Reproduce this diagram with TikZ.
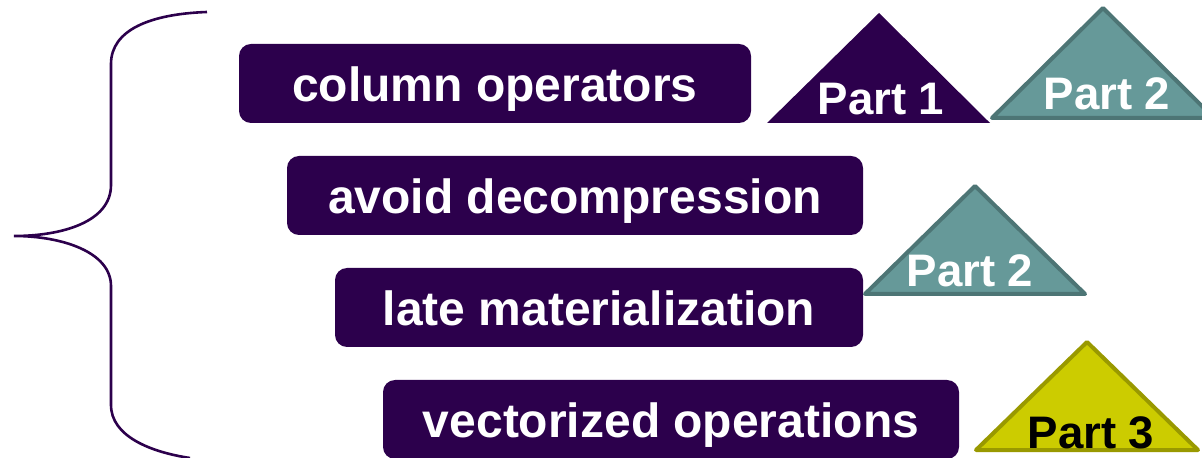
\documentclass[tikz,border=0pt]{standalone}
\usepackage{fontspec}
\setmainfont{Liberation Sans}
\definecolor{deeppurple}{RGB}{44,0,76}
\definecolor{tealfill}{RGB}{102,153,153}
\definecolor{tealline}{RGB}{77,117,117}
\definecolor{olivefill}{RGB}{204,204,0}
\definecolor{oliveline}{RGB}{153,153,0}
\begin{document}
\begin{tikzpicture}[x=0.5pt,y=-0.5pt,
  topic/.style={fill=deeppurple, rounded corners=6pt, inner sep=0pt,
    minimum height=39.5pt, text=white, text height=18.2pt, text depth=0pt,
    font=\fontsize{24}{28}\selectfont\bfseries},
  tri/.style={line width=2pt, line join=round},
  partlabel/.style={anchor=base, inner sep=0pt,
    font=\fontsize{22.8}{26}\selectfont\bfseries}]
\useasboundingbox (0,0) rectangle (1202,458);

% curly brace grouping the topics
\draw[deeppurple, line width=1.3pt]
  (207,12) .. controls (150,14) and (111,30) .. (111,64) -- (111,185)
  .. controls (111,222) and (62,236) .. (14,236)
  .. controls (62,236) and (111,252) .. (111,286) -- (111,405)
  .. controls (111,436) and (150,452) .. (190,458);

% topic boxes
\node[topic, minimum width=256pt] (colops) at (495,83.5) {column operators};
\node[topic, minimum width=288pt] (decomp) at (575,195.5) {avoid decompression};
\node[topic, minimum width=264pt] (latemat) at (599,307.5) {late materialization};
\node[topic, minimum width=288pt] (vecops) at (671,419.5) {vectorized operations};

% part markers
\fill[deeppurple] (767,123) -- (879,13) -- (990,123) -- cycle;
\node[partlabel, text=white] (partA) at (881,115) {Part 1};

\filldraw[tri, fill=tealfill, draw=tealline] (992,118) -- (1103,8) -- (1214,118) -- cycle;
\node[partlabel, text=white] (partB) at (1107,110) {Part 2};

\filldraw[tri, fill=tealfill, draw=tealline] (865,294) -- (975,186) -- (1085,294) -- cycle;
\node[partlabel, text=white] (partC) at (970,286.7) {Part 2};

\filldraw[tri, fill=olivefill, draw=oliveline] (976,450) -- (1087,342) -- (1198,450) -- cycle;
\node[partlabel, text=black] (partD) at (1091,448.3) {Part 3};
\end{tikzpicture}
\end{document}
